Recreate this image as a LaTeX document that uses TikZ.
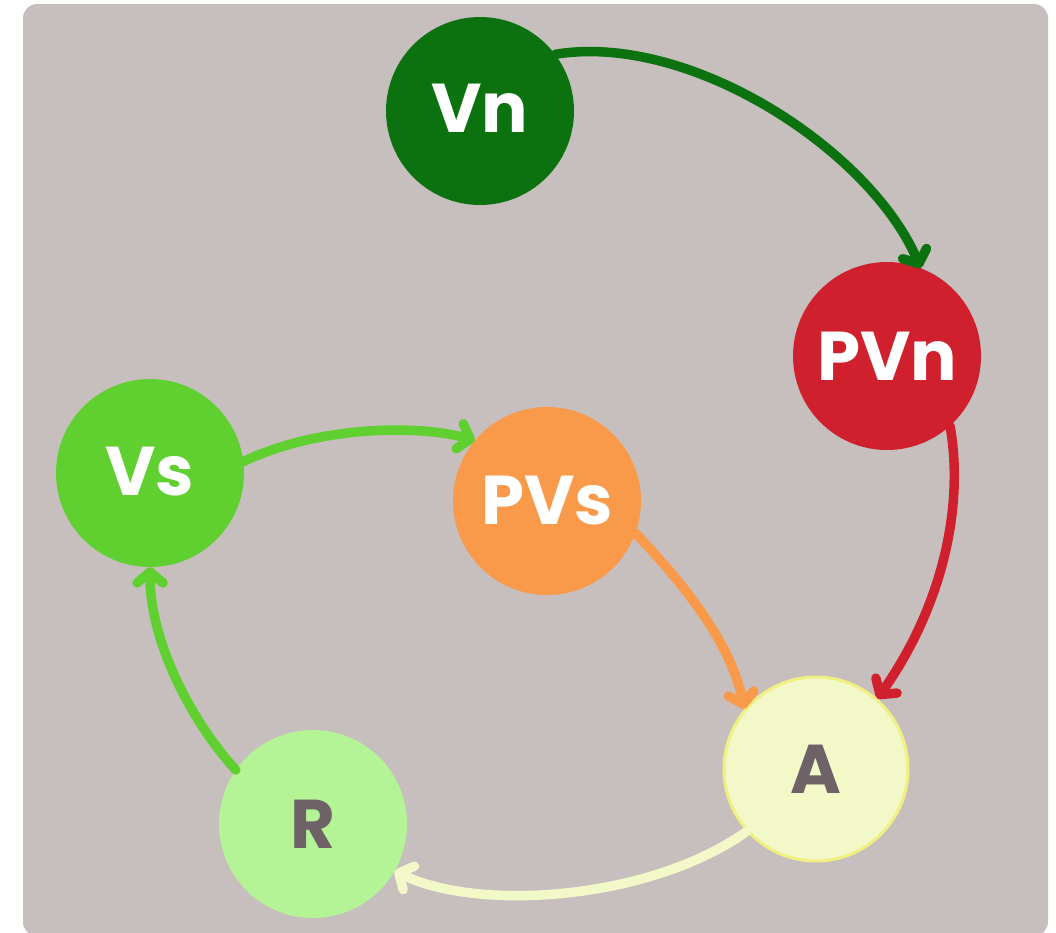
\documentclass[tikz,border=0pt]{standalone}
\usepackage{fontspec}
\setmainfont{Poppins}
\usetikzlibrary{arrows.meta}
\definecolor{bg}{HTML}{C7BFBE}
\definecolor{cVn}{HTML}{0C7210}
\definecolor{cPVn}{HTML}{D0202D}
\definecolor{cVs}{HTML}{60D030}
\definecolor{cPVs}{HTML}{F99A4A}
\definecolor{cA}{HTML}{F2F8C8}
\definecolor{cAb}{HTML}{F0F080}
\definecolor{cR}{HTML}{B4F497}
\definecolor{dark}{HTML}{6E6266}
\tikzset{
  circ/.style={circle, minimum size=188pt, inner sep=0pt, font=\fontsize{69}{70}\selectfont\bfseries, text=white},
  conn/.style={line width=9.5pt, line cap=round, -{Straight Barb[length=11pt,width=26pt,line cap=round,line join=round]}},
}
\begin{document}
\begin{tikzpicture}[x=1pt,y=-1pt]
\useasboundingbox (0,0) rectangle (1056,932);
\fill[bg, rounded corners=14pt] (23,4) rectangle (1048,936);
\node[circ, fill=cVn] (Vn) at (480,111) {\raisebox{5pt}{Vn}};
\node[circ, fill=cPVn] (PVn) at (887,356) {PVn};
\node[circ, fill=cVs] (Vs) at (150,473) {\raisebox{4pt}{Vs}};
\node[circ, fill=cPVs] (PVs) at (547,501) {PVs};
\node[circ, fill=cA, draw=cAb, line width=3pt, minimum size=184pt, text=dark] (A) at (816,769) {A};
\node[circ, fill=cR, text=dark] (R) at (313,824) {R};
\draw[conn, cVn] (Vn.37) .. controls (690,32) and (870,150) .. (PVn.69);
\draw[conn, cPVn] (PVn.-48) .. controls (965,510) and (940,610) .. (A.49);
\draw[conn, cPVs] (PVs.-20) .. controls (680,580) and (730,640) .. (A.140);
\draw[conn, cA] (A.222) .. controls (650,900) and (480,912) .. (R.-30);
\draw[conn, cVs] (R.145) .. controls (190,720) and (150,640) .. (Vs.-90);
\draw[conn, cVs] (Vs.7) .. controls (320,425) and (420,425) .. (PVs.140);
\end{tikzpicture}
\end{document}
